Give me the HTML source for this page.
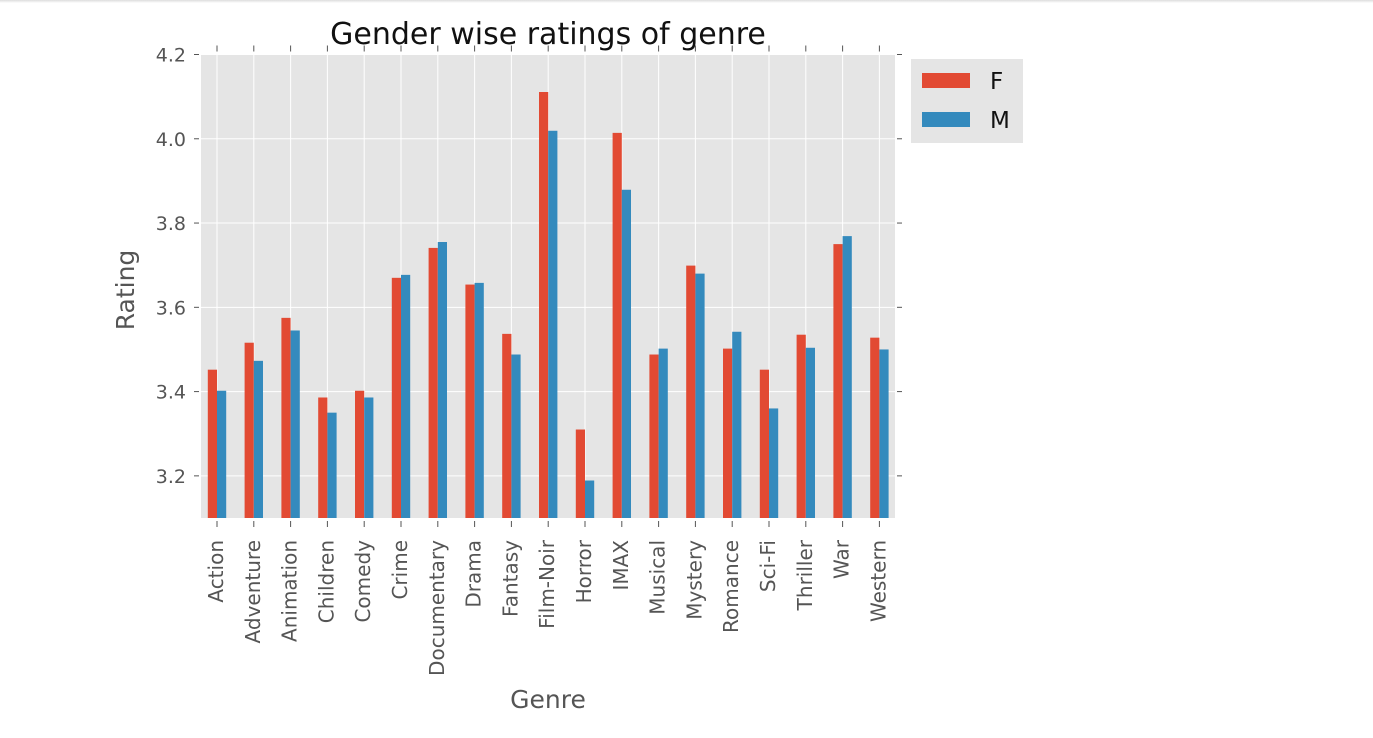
<!DOCTYPE html>
<html><head><meta charset="utf-8"><style>
body{margin:0;background:#fff;width:1373px;height:738px;overflow:hidden;font-family:"Liberation Sans","DejaVu Sans",sans-serif}
</style></head><body>
<div style="position:absolute;left:0;top:0;width:1373px;height:3px;background:linear-gradient(#ddd,#fff)"></div>
<svg id="chart" width="1373" height="738" style="position:absolute;left:0;top:0;font-family:'DejaVu Sans','Liberation Sans',sans-serif"></svg>
<script>
const categories=["Action","Adventure","Animation","Children","Comedy","Crime","Documentary","Drama","Fantasy","Film-Noir","Horror","IMAX","Musical","Mystery","Romance","Sci-Fi","Thriller","War","Western"];
const femaleValues=[3.452,3.516,3.575,3.386,3.402,3.670,3.741,3.654,3.537,4.111,3.310,4.014,3.488,3.699,3.502,3.452,3.535,3.750,3.528];
const maleValues=[3.402,3.473,3.545,3.350,3.386,3.677,3.755,3.658,3.488,4.019,3.189,3.879,3.502,3.680,3.542,3.360,3.504,3.769,3.500];
const yTicks=[3.2,3.4,3.6,3.8,4.0,4.2];
const NS="http://www.w3.org/2000/svg";
const svg=document.getElementById('chart');
const L=201,R=895,T=54.5,B=518,yMin=3.1,yMax=4.2;
const y=v=>T+(yMax-v)*(B-T)/(yMax-yMin);
const x0=217,x1=879.4;
const x=i=>x0+(x1-x0)*i/(categories.length-1);
const step=(x1-x0)/(categories.length-1);
function el(t,a,txt){const e=document.createElementNS(NS,t);for(const k in a)e.setAttribute(k,a[k]);if(txt!=null)e.textContent=txt;svg.appendChild(e);return e;}
let e=el('rect',{x:L,y:T,width:R-L,height:B-T,fill:'#e5e5e5'});


yTicks.forEach(v=>{
 let g=el('line',{x1:L,x2:R,y1:y(v),y2:y(v),stroke:'#fff','stroke-width':1});
 
 
 el('line',{x1:L-7,x2:L-2,y1:y(v),y2:y(v),stroke:'#555'});
 el('line',{x1:R+2,x2:R+7,y1:y(v),y2:y(v),stroke:'#555'});
 let t=el('text',{x:L-15,y:y(v)+7,'text-anchor':'end','font-size':19,fill:'#555'},v.toFixed(1));
 
 
});
const bw=step*0.25;
categories.forEach((c,i)=>{
 const cx=x(i);
 let g=el('line',{x1:cx,x2:cx,y1:T,y2:B,stroke:'#fff'});
 
 
 el('line',{x1:cx,x2:cx,y1:T-9,y2:T-3,stroke:'#555'});
 el('line',{x1:cx,x2:cx,y1:B+3,y2:B+9,stroke:'#555'});
 let bf=el('rect',{x:cx-bw,y:y(femaleValues[i]),width:bw,height:B-y(femaleValues[i]),fill:'#e24a33'});
 
 
 let bm=el('rect',{x:cx,y:y(maleValues[i]),width:bw,height:B-y(maleValues[i]),fill:'#348abd'});
 
 
 let t=el('text',{x:0,y:0,'text-anchor':'end','font-size':20,fill:'#555',transform:`translate(${cx+6},540) rotate(-90)`},c);
 
 
});
let tt=el('text',{x:548,y:44,'text-anchor':'middle','font-size':30,fill:'#111'},'Gender wise ratings of genre');


let yl=el('text',{x:0,y:0,'text-anchor':'middle','font-size':25,fill:'#555',transform:'translate(134,290) rotate(-90)'},'Rating');


let xl=el('text',{x:548,y:708,'text-anchor':'middle','font-size':25,fill:'#555'},'Genre');


let lg=el('rect',{x:911,y:59,width:112,height:84,fill:'#e5e5e5'});


el('rect',{x:922,y:73,width:48,height:15,fill:'#e24a33'});
el('rect',{x:922,y:112,width:48,height:15,fill:'#348abd'});
let lf=el('text',{x:990,y:89,'font-size':23,fill:'#111'},'F');


let lm=el('text',{x:990,y:128,'font-size':23,fill:'#111'},'M');


</script>
</body></html>
